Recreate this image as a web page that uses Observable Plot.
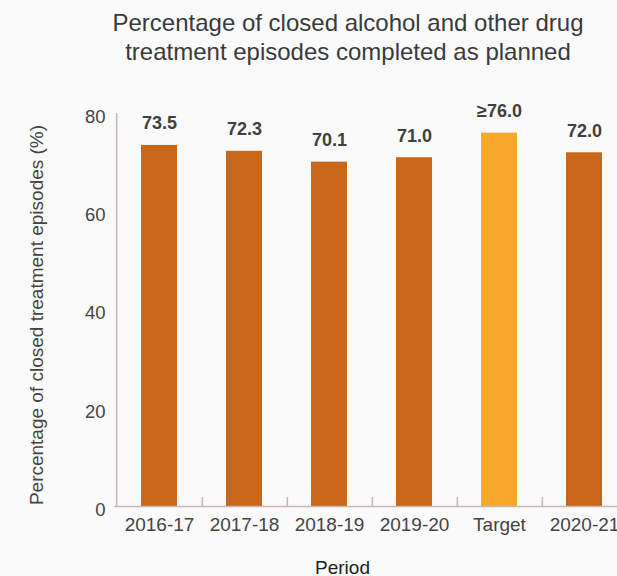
<!DOCTYPE html>
<html><head><meta charset="utf-8">
<script src="https://cdn.jsdelivr.net/npm/d3@7"></script>
<script src="https://cdn.jsdelivr.net/npm/@observablehq/plot@0.6"></script>
<style>
html,body{margin:0;padding:0;background:#fafafa;overflow:hidden;}
#wrap{width:696px;font-family:"Liberation Sans",Arial,sans-serif;}
#title{padding-top:8px;font-size:24px;line-height:29px;text-align:center;color:#3a3a3a;}
</style></head><body>
<div id="wrap">
<div id="title">Percentage of closed alcohol and other drug<br>treatment episodes completed as planned</div>
<div id="chart"></div>
</div>
<script>
const periods = ["2016-17","2017-18","2018-19","2019-20","Target","2020-21"];
const values = [73.5, 72.3, 70.1, 71.0, 76.0, 72.0];
const valueLabels = ["73.5","72.3","70.1","71.0","≥76.0","72.0"];
const isTarget = [false, false, false, false, true, false];
const yTicks = [0, 20, 40, 60, 80];
const xTitle = "Period";
const yTitle = "Percentage of closed treatment episodes (%)";

const barColor = "#c8671a", targetColor = "#f6a82c", axisColor = "#c2baba";
const W = 696, H = 510, mL = 114, mR = 68, mT = 47, mB = 70;
const pInner = 0.58, pOuter = pInner / 2;
const step = (W - mL - mR) / (periods.length - pInner + 2 * pOuter);
const plotH = H - mT - mB;

const table = periods.map((p, i) => ({
  period: p, value: values[i], label: valueLabels[i],
  color: isTarget[i] ? targetColor : barColor
}));

const chart = Plot.plot({
  width: W, height: H,
  marginLeft: mL, marginRight: mR, marginTop: mT, marginBottom: mB,
  style: {background: "transparent", fontFamily: "'Liberation Sans', Arial, sans-serif", fontSize: "18px", color: "#444", overflow: "visible"},
  x: {domain: periods, paddingInner: pInner, paddingOuter: pOuter},
  y: {domain: [0, 80]},
  color: {type: "identity"},
  marks: [
    Plot.barY(table, {x: "period", y: "value", fill: "color"}),
    Plot.ruleY([0], {stroke: axisColor, strokeWidth: 1.5}),
    Plot.ruleX([periods[0]], {x: d => d, dx: -step / 2, stroke: axisColor, strokeWidth: 1.5}),
    Plot.ruleX(periods.slice(0, -1), {x: d => d, dx: step / 2, insetTop: plotH - 9, stroke: axisColor, strokeWidth: 1.5}),
    Plot.axisX({tickSize: 0, tickPadding: 11, label: null, fill: "#444", fontSize: 19}),
    Plot.axisY({ticks: yTicks, tickSize: 0, tickPadding: 9, label: null, dy: 3.5, fill: "#444", fontSize: 18.5}),
    Plot.text(table, {x: "period", y: "value", text: "label", dy: -16, lineAnchor: "bottom", fontWeight: "bold", fontSize: 18, fill: "#404040"}),
    Plot.text([yTitle], {frameAnchor: "left", text: d => d, rotate: -90, dx: -72, dy: 5, lineAnchor: "bottom", textAnchor: "middle", fontSize: 19, fill: "#444"}),
    Plot.text([xTitle], {frameAnchor: "bottom", text: d => d, dx: -29, dy: 67, lineAnchor: "bottom", fontSize: 19, fill: "#222"})
  ]
});
document.getElementById("chart").appendChild(chart);
</script>
</body></html>
